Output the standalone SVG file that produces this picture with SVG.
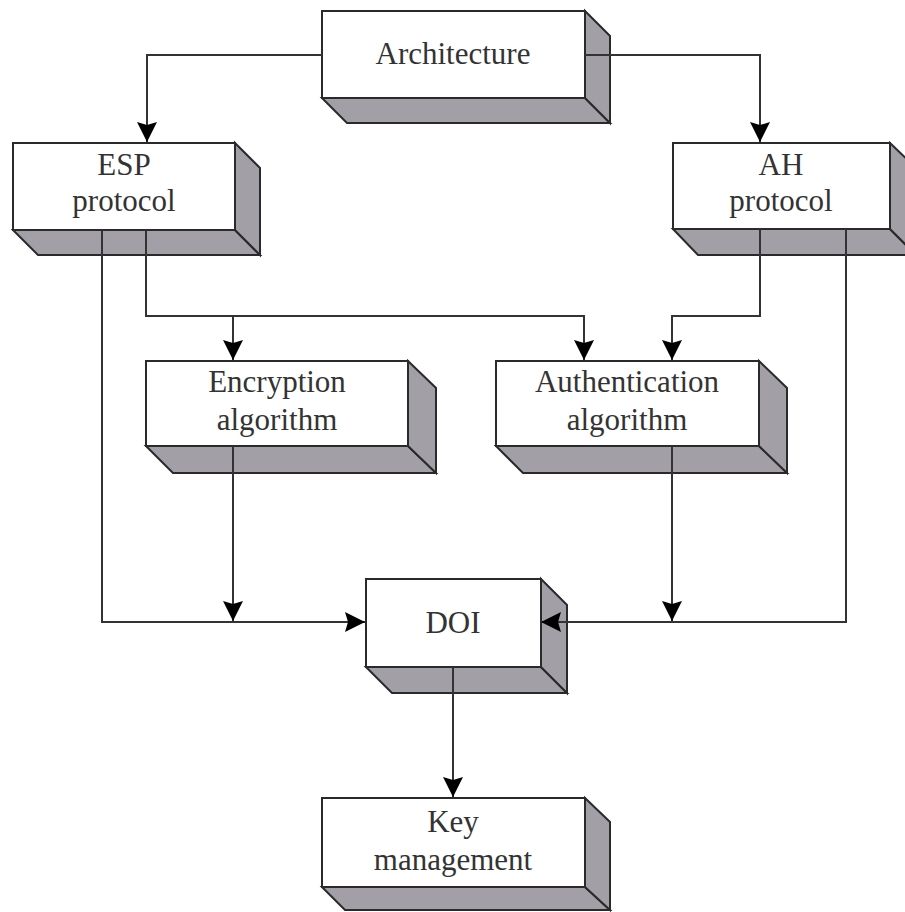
<svg xmlns="http://www.w3.org/2000/svg" width="905" height="912" viewBox="0 0 905 912">
<style>
.front{fill:#ffffff;stroke:#2a2a2a;stroke-width:2;}
.face{fill:#a39fa7;stroke:#2a2a2a;stroke-width:2;stroke-linejoin:miter;}
.lbl{font-family:"Liberation Serif","Times New Roman",serif;font-size:31px;fill:#333333;text-anchor:middle;}
.con{fill:none;stroke:#333333;stroke-width:2;}
</style>
<defs>
<marker id="arr" viewBox="-21 -11 22 22" refX="0" refY="0" markerWidth="22" markerHeight="22" markerUnits="userSpaceOnUse" orient="auto">
<path d="M0,0 L-20,-10 L-17,0 L-20,10 Z" fill="#000"/>
</marker>
</defs>
<rect width="905" height="912" fill="#ffffff"/>

<g id="architecture">
<polygon class="face" points="322,98 347,123 610,123 585,98"/>
<polygon class="face" points="585,11 610,36 610,123 585,98"/>
<rect class="front" x="322" y="11" width="263" height="87"/>
<text class="lbl" x="453" y="64">Architecture</text>
</g>

<g id="esp">
<polygon class="face" points="13,230 38,255 260,255 235,230"/>
<polygon class="face" points="235,143 260,168 260,255 235,230"/>
<rect class="front" x="13" y="143" width="222" height="87"/>
<text class="lbl" x="124" y="175">ESP</text>
<text class="lbl" x="124" y="211">protocol</text>
</g>

<g id="ah">
<polygon class="face" points="673,229 698,255 916,255 890,229"/>
<polygon class="face" points="890,143 916,168 916,255 890,229"/>
<rect class="front" x="673" y="143" width="217" height="86"/>
<text class="lbl" x="781" y="175">AH</text>
<text class="lbl" x="781" y="211">protocol</text>
</g>

<g id="encryption">
<polygon class="face" points="146,446 173,473 436,473 408,446"/>
<polygon class="face" points="408,361 436,388 436,473 408,446"/>
<rect class="front" x="146" y="361" width="262" height="85"/>
<text class="lbl" x="277" y="392">Encryption</text>
<text class="lbl" x="277" y="430">algorithm</text>
</g>

<g id="authentication">
<polygon class="face" points="496,446 523,473 787,473 759,446"/>
<polygon class="face" points="759,361 787,388 787,473 759,446"/>
<rect class="front" x="496" y="361" width="263" height="85"/>
<text class="lbl" x="627" y="392">Authentication</text>
<text class="lbl" x="627" y="430">algorithm</text>
</g>

<g id="doi">
<polygon class="face" points="366,667 392,693 567,693 541,667"/>
<polygon class="face" points="541,579 567,605 567,693 541,667"/>
<rect class="front" x="366" y="579" width="175" height="88"/>
<text class="lbl" x="453" y="633">DOI</text>
</g>

<g id="key-management">
<polygon class="face" points="322,887 345,910 610,910 585,887"/>
<polygon class="face" points="585,798 610,822 610,910 585,887"/>
<rect class="front" x="322" y="798" width="263" height="89"/>
<text class="lbl" x="453" y="832">Key</text>
<text class="lbl" x="453" y="870">management</text>
</g>

<g id="connectors">
<path class="con" d="M322,55 H147 V142" marker-end="url(#arr)"/>
<path class="con" d="M585,55 H760 V142" marker-end="url(#arr)"/>
<path class="con" d="M102,230 V622 H365" marker-end="url(#arr)"/>
<path class="con" d="M146,230 V316 H584 V360" marker-end="url(#arr)"/>
<path class="con" d="M233,316 V360" marker-end="url(#arr)"/>
<path class="con" d="M760,229 V316 H672 V360" marker-end="url(#arr)"/>
<path class="con" d="M846,229 V622 H541" marker-end="url(#arr)"/>
<path class="con" d="M233,446 V621" marker-end="url(#arr)"/>
<path class="con" d="M672,446 V621" marker-end="url(#arr)"/>
<path class="con" d="M453,667 V797" marker-end="url(#arr)"/>
</g>
</svg>
